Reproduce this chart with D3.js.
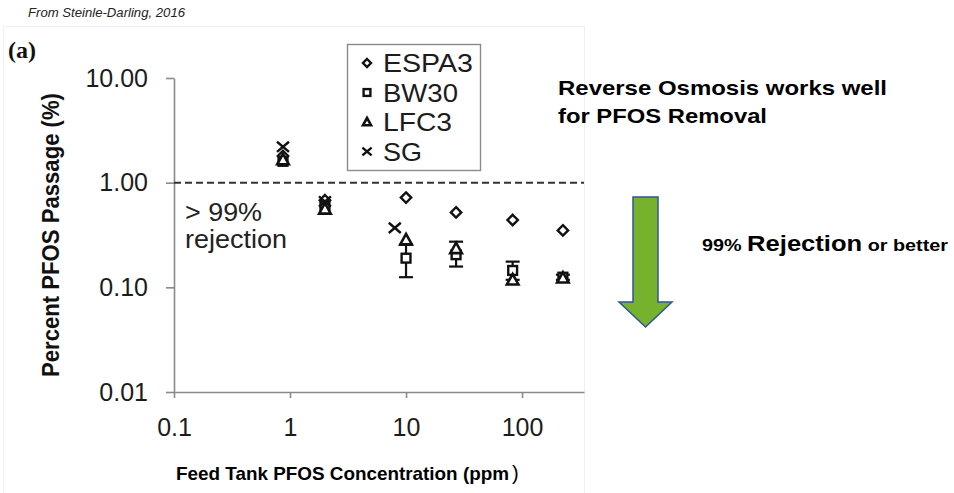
<!DOCTYPE html>
<html>
<head>
<meta charset="utf-8">
<script src="https://cdn.jsdelivr.net/npm/d3@7"></script>
<style>
  html, body { margin: 0; padding: 0; background: #fff; }
  svg { display: block; font-family: "Liberation Sans", Arial, sans-serif; }
</style>
</head>
<body>
<svg id="chart" width="954" height="493"></svg>
<script>
// feed concentrations (ppm) per membrane and % PFOS passage
const espa3X = [0.87, 2.0, 10, 27, 83, 225];
const espa3Y = [1.8, 0.68, 0.72, 0.52, 0.44, 0.35];
const bw30X = [0.87, 2.0, 10, 27, 83, 225];
const bw30Y = [1.6, 0.6, 0.19, 0.205, 0.145, 0.125];
const bw30Lo = [null, null, 0.125, 0.158, 0.118, 0.118];
const bw30Hi = [null, null, 0.255, 0.273, 0.176, 0.132];
const lfc3X = [0.87, 2.0, 10, 27, 83, 225];
const lfc3Y = [1.66, 0.56, 0.285, 0.235, 0.118, 0.123];
const sgX = [0.87, 2.0, 8.0];
const sgY = [2.2, 0.66, 0.37];

const xTicks = [0.1, 1, 10, 100];
const xTickLabels = ['0.1', '1', '10', '100'];
const yTicks = [0.01, 0.1, 1, 10];
const legendNames = ['ESPA3', 'BW30', 'LFC3', 'SG'];

const svg = d3.select('#chart');

const x = d3.scaleLog().domain([0.1, 342]).range([174, 584]);
const y = d3.scaleLog().domain([0.01, 10]).range([392, 78]);

// faint border of the pasted figure
svg.append('rect').attr('x', 3.5).attr('y', 26.5).attr('width', 581).attr('height', 470)
  .attr('fill', 'none').attr('stroke', '#eef0f3').attr('stroke-width', 1);

// source note
svg.append('text').attr('x', 28).attr('y', 17).attr('font-size', 12).attr('font-style', 'italic')
  .attr('fill', '#222').attr('textLength', 157).attr('lengthAdjust', 'spacingAndGlyphs')
  .text('From Steinle-Darling, 2016');

svg.append('text').attr('x', 8).attr('y', 58).attr('font-family', '"Liberation Serif", "Times New Roman", serif')
  .attr('font-weight', 'bold').attr('font-size', 24).attr('fill', '#111').text('(a)');

// axes
const yAxis = svg.append('g').attr('transform', 'translate(174,0)')
  .call(d3.axisLeft(y).tickValues(yTicks).tickFormat(d3.format('.2f')).tickSize(8).tickSizeOuter(0).tickPadding(18));
const xAxis = svg.append('g').attr('transform', 'translate(0,392)')
  .call(d3.axisBottom(x).tickValues(xTicks).tickFormat((d, i) => xTickLabels[i]).tickSize(6).tickSizeOuter(0).tickPadding(20));
[yAxis, xAxis].forEach(g => {
  g.select('.domain').attr('stroke', '#8a8a8a').attr('stroke-width', 1.6);
  g.selectAll('.tick line').attr('stroke', '#8a8a8a').attr('stroke-width', 1.6);
  g.selectAll('.tick text').attr('font-size', 25).attr('fill', '#1c1c1c')
    .attr('font-family', '"Liberation Sans", Arial, sans-serif');
});

// 99% rejection line
svg.append('line').attr('x1', x(0.1)).attr('x2', x(342)).attr('y1', y(1)).attr('y2', y(1))
  .attr('stroke', '#333').attr('stroke-width', 2).attr('stroke-dasharray', '7,4');

svg.append('text').attr('x', 185).attr('y', 221).attr('font-size', 25).attr('fill', '#222')
  .attr('textLength', 77).attr('lengthAdjust', 'spacingAndGlyphs').text('> 99%');
svg.append('text').attr('x', 185).attr('y', 248).attr('font-size', 25).attr('fill', '#222')
  .attr('textLength', 102).attr('lengthAdjust', 'spacingAndGlyphs').text('rejection');

// axis titles
svg.append('text').attr('transform', 'translate(59,235) rotate(-90)').attr('text-anchor', 'middle')
  .attr('font-size', 23).attr('font-weight', 'bold').attr('fill', '#111')
  .attr('textLength', 284).attr('lengthAdjust', 'spacingAndGlyphs').text('Percent PFOS Passage (%)');
svg.append('text').attr('x', 176).attr('y', 480).attr('font-size', 19).attr('font-weight', 'bold').attr('fill', '#000')
  .attr('textLength', 333).attr('lengthAdjust', 'spacingAndGlyphs').text('Feed Tank PFOS Concentration (ppm');
svg.append('text').attr('x', 512).attr('y', 480).attr('font-size', 20).attr('fill', '#000').text(')');

// marker shapes
function marker(g, kind, cx, cy, s) {
  if (kind === 'ESPA3') {
    g.append('path').attr('d', `M${cx},${cy - s}L${cx + s},${cy}L${cx},${cy + s}L${cx - s},${cy}Z`)
      .attr('fill', '#fff').attr('stroke', '#111').attr('stroke-width', 2.4);
  } else if (kind === 'BW30') {
    g.append('rect').attr('x', cx - s * 0.85).attr('y', cy - s * 0.85).attr('width', s * 1.7).attr('height', s * 1.7)
      .attr('fill', '#fff').attr('stroke', '#111').attr('stroke-width', 2.4);
  } else if (kind === 'LFC3') {
    g.append('path').attr('d', `M${cx},${cy - s}L${cx + s},${cy + s * 0.8}L${cx - s},${cy + s * 0.8}Z`)
      .attr('fill', '#fff').attr('stroke', '#111').attr('stroke-width', 2.6);
  } else {
    g.append('path').attr('d', `M${cx - s},${cy - s * 0.85}L${cx + s},${cy + s * 0.85}M${cx - s},${cy + s * 0.85}L${cx + s},${cy - s * 0.85}`)
      .attr('fill', 'none').attr('stroke', '#111').attr('stroke-width', 2.4);
  }
}

const pts = svg.append('g');
// error bars (BW30)
bw30X.forEach((d, i) => {
  if (bw30Lo[i] == null) return;
  const cx = x(d);
  pts.append('line').attr('x1', cx).attr('x2', cx).attr('y1', y(bw30Lo[i])).attr('y2', y(bw30Hi[i]))
    .attr('stroke', '#111').attr('stroke-width', 2.2);
  [bw30Lo[i], bw30Hi[i]].forEach(v => pts.append('line').attr('x1', cx - 7).attr('x2', cx + 7)
    .attr('y1', y(v)).attr('y2', y(v)).attr('stroke', '#111').attr('stroke-width', 2.2));
});
espa3X.forEach((d, i) => marker(pts, 'ESPA3', x(d), y(espa3Y[i]), 5.2));
bw30X.forEach((d, i) => marker(pts, 'BW30', x(d), y(bw30Y[i]), 5.2));
lfc3X.forEach((d, i) => marker(pts, 'LFC3', x(d), y(lfc3Y[i]), 5.8));
sgX.forEach((d, i) => marker(pts, 'SG', x(d), y(sgY[i]), 6));

// legend
const legendLen = [90, 75, 69, 39];
const lg = svg.append('g');
lg.append('rect').attr('x', 347.5).attr('y', 44.5).attr('width', 133).attr('height', 126)
  .attr('fill', '#fff').attr('stroke', '#8a8a8a').attr('stroke-width', 1.4);
legendNames.forEach((n, i) => {
  const cy = 63 + i * 29.5;
  marker(lg, n, 367, cy, n === 'SG' ? 4.6 : 4);
  lg.append('text').attr('x', 383).attr('y', cy + 9).attr('font-size', 25).attr('fill', '#1c1c1c')
    .attr('textLength', legendLen[i]).attr('lengthAdjust', 'spacingAndGlyphs').text(n);
});

// annotation
svg.append('text').attr('x', 558).attr('y', 95).attr('font-size', 21).attr('font-weight', 'bold')
  .attr('textLength', 329).attr('lengthAdjust', 'spacingAndGlyphs').text('Reverse Osmosis works well');
svg.append('text').attr('x', 558).attr('y', 123).attr('font-size', 21).attr('font-weight', 'bold')
  .attr('textLength', 209).attr('lengthAdjust', 'spacingAndGlyphs').text('for PFOS Removal');

const rj = svg.append('text').attr('x', 702).attr('y', 251).attr('font-weight', 'bold').attr('fill', '#000')
  .attr('textLength', 246).attr('lengthAdjust', 'spacingAndGlyphs');
rj.append('tspan').attr('font-size', 17).text('99% ');
rj.append('tspan').attr('font-size', 22).text('Rejection');
rj.append('tspan').attr('font-size', 17).text(' or better');

svg.append('path')
  .attr('d', 'M633,197L658,197L658,302L672,302L645.5,327L619,302L633,302Z')
  .attr('fill', '#77B22F').attr('stroke', '#2F5597').attr('stroke-width', 1.5);
</script>
</body>
</html>
